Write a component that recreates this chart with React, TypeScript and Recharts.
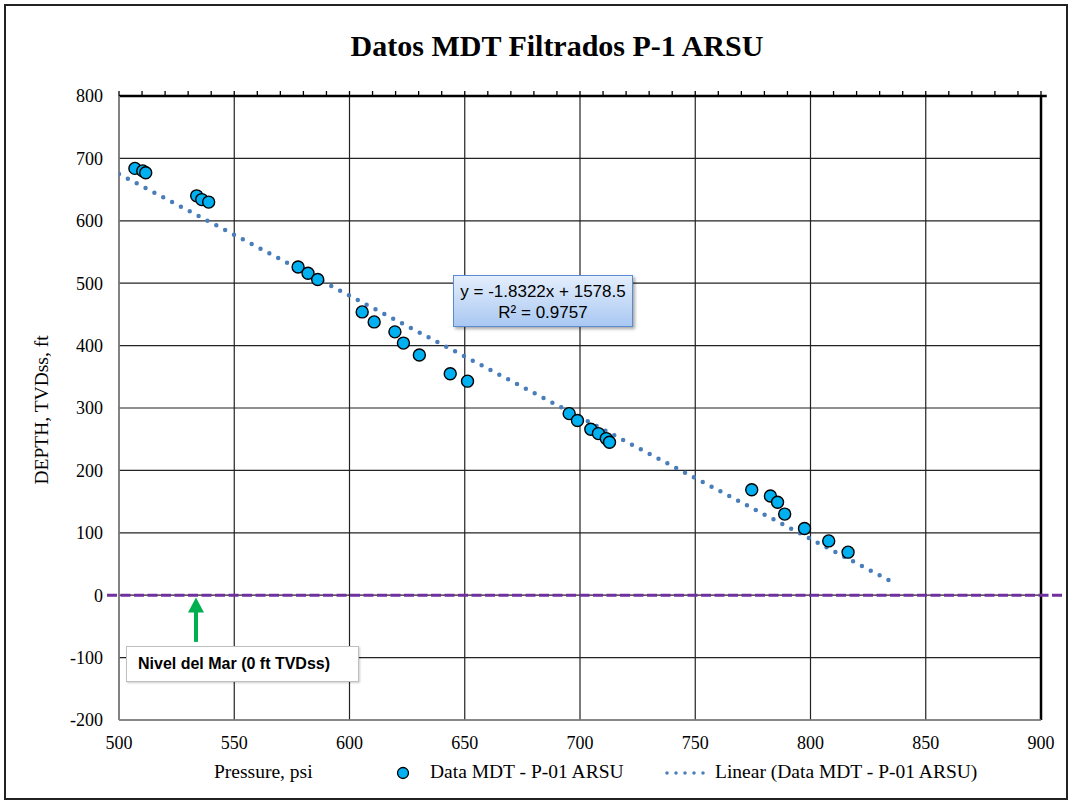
import {
  ScatterChart,
  Scatter,
  XAxis,
  YAxis,
  CartesianGrid,
  ReferenceLine,
} from 'recharts';

// MDT pressure points (psi vs ft TVDss)
const pressure = [
  506.9, 510.3, 511.6, 533.7, 535.9, 538.9, 577.7, 582.0, 586.2, 605.5, 610.7, 619.7, 623.4, 630.3, 643.7,
  651.2, 695.3, 698.9, 704.7, 708.0, 711.4, 712.8, 774.5, 782.6, 785.7, 788.8, 797.4, 807.9, 816.3,
];
const depth = [
  684, 680, 677, 640, 634, 630, 526, 516, 506, 454, 438, 422, 404, 385, 355,
  343, 291, 280, 266, 259, 251, 245, 169, 159, 149, 130, 107, 87, 69,
];

// trend line ends as drawn
const trendX = [500, 835];
const trendY = [675, 22];

const xTicks = [500, 550, 600, 650, 700, 750, 800, 850, 900];
const yTicks = [-200, -100, 0, 100, 200, 300, 400, 500, 600, 700, 800];
// minor ticks on the top frame, every 10 psi
const minorTicks = Array.from({ length: 41 }, (_, i) => 500 + i * 10);

const points = pressure.map((x, i) => ({ x, y: depth[i] }));
const trend = trendX.map((x, i) => ({ x, y: trendY[i] }));

const serif = '"Liberation Serif", "Times New Roman", serif';
const sans = '"Liberation Sans", Arial, sans-serif';

const Dot = (p: any) => (
  <circle cx={p.cx} cy={p.cy} r={6} fill="#00B0F0" stroke="#000" strokeWidth={1.4} />
);

const NoDot = () => <g />;

const Arrow = (p: any) => {
  const { x1, y1, x2, y2 } = p;
  return (
    <g>
      <line x1={x1} y1={y1} x2={x2} y2={y2 + 12} stroke="#00B050" strokeWidth={4} />
      <polygon points={`${x2},${y2} ${x2 - 8},${y2 + 15} ${x2 + 8},${y2 + 15}`} fill="#00B050" />
    </g>
  );
};

const legendText = {
  position: 'absolute' as const,
  top: 761,
  fontFamily: serif,
  fontSize: 19.5,
  color: '#000',
  whiteSpace: 'nowrap' as const,
};

const App = () => {
  return (
    <div style={{ position: 'absolute', left: 0, top: 0, width: 1071, height: 802, background: '#fff' }}>
      {/* chart frame */}
      <div
        style={{
          position: 'absolute',
          left: 4,
          top: 4,
          width: 1060,
          height: 792,
          border: '2px solid #222',
        }}
      />
      <ScatterChart width={1071} height={802} margin={{ top: 96, right: 30, left: 59, bottom: 52 }}>
        <CartesianGrid stroke="#222" strokeWidth={1.2} />
        <XAxis
          type="number"
          dataKey="x"
          domain={[500, 900]}
          ticks={xTicks}
          interval={0}
          tickLine={false}
          axisLine={{ stroke: '#868686', strokeWidth: 1.5 }}
          tick={{ fontFamily: serif, fontSize: 18, fill: '#000' }}
          tickMargin={10}
          height={30}
          allowDataOverflow
        />
        <YAxis
          type="number"
          dataKey="y"
          domain={[-200, 800]}
          ticks={yTicks}
          interval={0}
          tickLine={false}
          axisLine={{ stroke: '#868686', strokeWidth: 1.5 }}
          tick={{ fontFamily: serif, fontSize: 18, fill: '#000' }}
          tickMargin={10}
          width={60}
          allowDataOverflow
        />
        {/* top and right frame lines with the minor ticks */}
        {minorTicks.map((t) => (
          <ReferenceLine
            key={t}
            segment={[
              { x: t, y: 800 },
              { x: t, y: 808 },
            ]}
            ifOverflow="visible"
            stroke="#000"
            strokeWidth={1.3}
          />
        ))}
        <ReferenceLine
          segment={[
            { x: 500, y: 800 },
            { x: 902.5, y: 800 },
          ]}
          ifOverflow="visible"
          stroke="#000"
          strokeWidth={2.5}
        />
        <ReferenceLine
          segment={[
            { x: 900, y: -200 },
            { x: 900, y: 801 },
          ]}
          ifOverflow="visible"
          stroke="#000"
          strokeWidth={2.5}
        />
        <ReferenceLine
          segment={[
            { x: 494.8, y: 0 },
            { x: 910.2, y: 0 },
          ]}
          ifOverflow="visible"
          stroke="#7030A0"
          strokeWidth={3}
          strokeDasharray="10 3.5"
        />
        <ReferenceLine
          segment={[
            { x: 533.4, y: -74.8 },
            { x: 533.4, y: -3.7 },
          ]}
          ifOverflow="visible"
          shape={Arrow}
        />
        <Scatter
          data={trend}
          isAnimationActive={false}
          fill="#4A7EBB"
          line={{ stroke: '#4A7EBB', strokeWidth: 4.5, strokeDasharray: '0 10', strokeLinecap: 'round' }}
          shape={NoDot}
        />
        <Scatter data={points} isAnimationActive={false} shape={Dot} />
      </ScatterChart>

      {/* title */}
      <div
        style={{
          position: 'absolute',
          left: 0,
          width: 1114,
          top: 29,
          textAlign: 'center',
          fontFamily: serif,
          fontWeight: 'bold',
          fontSize: 30,
          color: '#000',
        }}
      >
        Datos MDT Filtrados P-1 ARSU
      </div>

      {/* y axis title */}
      <div
        style={{
          position: 'absolute',
          left: 42,
          top: 410,
          transform: 'translate(-50%, -50%) rotate(-90deg)',
          whiteSpace: 'nowrap',
          fontFamily: serif,
          fontSize: 19.5,
          color: '#000',
        }}
      >
        DEPTH, TVDss, ft
      </div>

      {/* x axis title + legend row */}
      <div style={{ ...legendText, left: 214 }}>Pressure, psi</div>
      <svg style={{ position: 'absolute', left: 395, top: 765 }} width={20} height={16}>
        <circle cx={8} cy={8} r={5.5} fill="#00B0F0" stroke="#000" strokeWidth={1.3} />
      </svg>
      <div style={{ ...legendText, left: 430 }}>Data MDT - P-01 ARSU</div>
      <svg style={{ position: 'absolute', left: 662, top: 766 }} width={54} height={14}>
        <line
          x1={5}
          y1={7}
          x2={50}
          y2={7}
          stroke="#4A7EBB"
          strokeWidth={3.5}
          strokeDasharray="0 9"
          strokeLinecap="round"
        />
      </svg>
      <div style={{ ...legendText, left: 715 }}>Linear (Data MDT - P-01 ARSU)</div>

      {/* trend equation */}
      <div
        style={{
          position: 'absolute',
          left: 453,
          top: 275,
          width: 180,
          height: 52,
          boxSizing: 'border-box',
          border: '1px solid #5B8BD0',
          background: 'linear-gradient(#E4EEFC, #A9C8F2)',
          boxShadow: '2px 2px 3px rgba(0,0,0,0.35)',
          fontFamily: sans,
          fontSize: 17,
          lineHeight: '21px',
          paddingTop: 5,
          textAlign: 'center',
          color: '#000',
          whiteSpace: 'nowrap',
        }}
      >
        <div>y = -1.8322x + 1578.5</div>
        <div>R² = 0.9757</div>
      </div>

      {/* sea level note */}
      <div
        style={{
          position: 'absolute',
          left: 126,
          top: 646,
          width: 233,
          height: 36,
          boxSizing: 'border-box',
          border: '1px solid #BFBFBF',
          background: '#fff',
          boxShadow: '1px 1px 2px rgba(0,0,0,0.2)',
          fontFamily: sans,
          fontWeight: 'bold',
          fontSize: 16,
          lineHeight: '34px',
          paddingLeft: 11,
          color: '#000',
          whiteSpace: 'nowrap',
        }}
      >
        Nivel del Mar (0 ft TVDss)
      </div>
    </div>
  );
};

export default App;
